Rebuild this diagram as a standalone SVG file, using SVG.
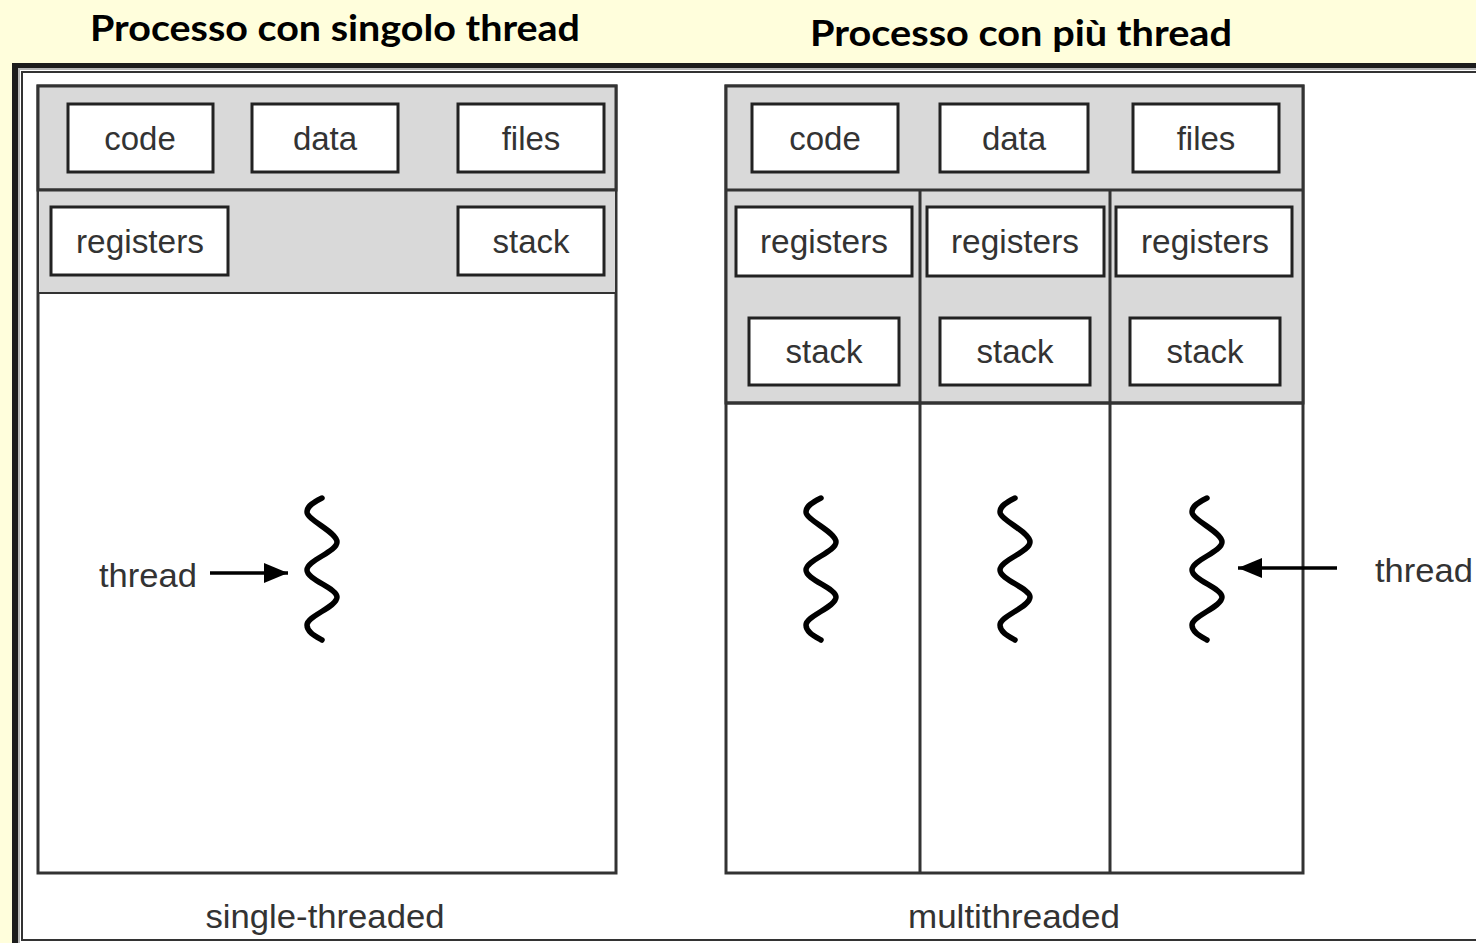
<svg xmlns="http://www.w3.org/2000/svg" width="1476" height="943" viewBox="0 0 1476 943">
<style>
.title{font-family:Lato,"Open Sans","Liberation Sans",sans-serif;font-weight:bold;font-size:37px;fill:#000}
.lbl{font-family:"Liberation Sans",Arial,sans-serif;font-size:33px;fill:#333;text-anchor:middle}
.panel{fill:#fff;stroke:#333;stroke-width:3}
.band{fill:#d9d9d9;stroke:#333;stroke-width:3}
.box{fill:#fff;stroke:#222;stroke-width:3}
.div{stroke:#333;stroke-width:3;fill:none}
.sq{fill:none;stroke:#000;stroke-width:5.5;stroke-linecap:round}
.arr{stroke:#000;stroke-width:3.5;fill:none}
</style>
<defs>
<marker id="ah" viewBox="0 0 24 20" refX="24" refY="10" markerWidth="24" markerHeight="20" markerUnits="userSpaceOnUse" orient="auto">
<path d="M0,0 L24,10 L0,20 Z" fill="#000"/>
</marker>
<path id="squig" d="M0,0 C-8,4 -15,8 -15,14 C-15,22 15,34 15,44 C15,54 -15,62 -15,72 C-15,82 15,90 15,99 C15,109 -15,118 -15,127 C-15,134 -7,138 0,142"/>
</defs>
<rect x="0" y="0" width="1476" height="943" fill="#FFFEDC"/>
<g id="frame">
<rect x="12" y="63" width="1480" height="900" fill="#1c1c1c"/>
<rect x="18" y="68" width="1480" height="890" fill="#b5b5b5"/>
<rect x="20" y="70" width="1480" height="880" fill="#fff"/>
<rect x="22" y="72" width="1480" height="868" fill="#fff" stroke="#333" stroke-width="2"/>
</g>
<g id="titles">
<text class="title" x="90" y="41" textLength="490" lengthAdjust="spacingAndGlyphs">Processo con singolo thread</text>
<text class="title" x="810" y="46" textLength="422" lengthAdjust="spacingAndGlyphs">Processo con più thread</text>
</g>
<g id="single">
<rect class="panel" x="38" y="86" width="578" height="787"/>
<rect class="band" x="38" y="86" width="578" height="104"/>
<rect x="38" y="190" width="578" height="103" fill="#d9d9d9" stroke="#333" stroke-width="2"/>
<line class="div" x1="38" y1="190" x2="616" y2="190"/>
<g id="s-code"><rect class="box" x="68" y="104" width="145" height="68"/><text class="lbl" x="140" y="150">code</text></g>
<g id="s-data"><rect class="box" x="252" y="104" width="146" height="68"/><text class="lbl" x="325" y="150">data</text></g>
<g id="s-files"><rect class="box" x="458" y="104" width="146" height="68"/><text class="lbl" x="531" y="150">files</text></g>
<g id="s-registers"><rect class="box" x="51" y="207" width="177" height="68"/><text class="lbl" x="140" y="253" textLength="128" lengthAdjust="spacingAndGlyphs">registers</text></g>
<g id="s-stack"><rect class="box" x="458" y="207" width="146" height="68"/><text class="lbl" x="531" y="253">stack</text></g>
<g id="s-thread"><use href="#squig" class="sq" x="322" y="498"/></g>
<text class="lbl" x="148" y="587" textLength="98" lengthAdjust="spacingAndGlyphs">thread</text>
<text class="lbl" x="325" y="928" textLength="239" lengthAdjust="spacingAndGlyphs">single-threaded</text>
</g>
<g id="multi">
<rect class="panel" x="726" y="86" width="577" height="787"/>
<rect class="band" x="726" y="86" width="577" height="317"/>
<line class="div" x1="726" y1="190" x2="1303" y2="190"/>
<line class="div" x1="920" y1="190" x2="920" y2="873"/>
<line class="div" x1="1110" y1="190" x2="1110" y2="873"/>
<line class="div" x1="726" y1="403" x2="1303" y2="403"/>
<g id="m-code"><rect class="box" x="752" y="104" width="146" height="68"/><text class="lbl" x="825" y="150">code</text></g>
<g id="m-data"><rect class="box" x="940" y="104" width="148" height="68"/><text class="lbl" x="1014" y="150">data</text></g>
<g id="m-files"><rect class="box" x="1133" y="104" width="146" height="68"/><text class="lbl" x="1206" y="150">files</text></g>
<g id="m-registers1"><rect class="box" x="736" y="207" width="176" height="69"/><text class="lbl" x="824" y="253" textLength="128" lengthAdjust="spacingAndGlyphs">registers</text></g>
<g id="m-registers2"><rect class="box" x="927" y="207" width="177" height="69"/><text class="lbl" x="1015" y="253" textLength="128" lengthAdjust="spacingAndGlyphs">registers</text></g>
<g id="m-registers3"><rect class="box" x="1116" y="207" width="176" height="69"/><text class="lbl" x="1205" y="253" textLength="128" lengthAdjust="spacingAndGlyphs">registers</text></g>
<g id="m-stack1"><rect class="box" x="749" y="318" width="150" height="67"/><text class="lbl" x="824" y="363">stack</text></g>
<g id="m-stack2"><rect class="box" x="940" y="318" width="150" height="67"/><text class="lbl" x="1015" y="363">stack</text></g>
<g id="m-stack3"><rect class="box" x="1130" y="318" width="150" height="67"/><text class="lbl" x="1205" y="363">stack</text></g>
<g id="m-thread1"><use href="#squig" class="sq" x="821" y="498"/></g>
<g id="m-thread2"><use href="#squig" class="sq" x="1015" y="498"/></g>
<g id="m-thread3"><use href="#squig" class="sq" x="1207" y="498"/></g>
<text class="lbl" x="1424" y="582" textLength="98" lengthAdjust="spacingAndGlyphs">thread</text>
<text class="lbl" x="1014" y="928" textLength="212" lengthAdjust="spacingAndGlyphs">multithreaded</text>
</g>
<g id="connectors">
<line class="arr" x1="210" y1="573" x2="288" y2="573" marker-end="url(#ah)"/>
<line class="arr" x1="1337" y1="568" x2="1238" y2="568" marker-end="url(#ah)"/>
</g>
</svg>
